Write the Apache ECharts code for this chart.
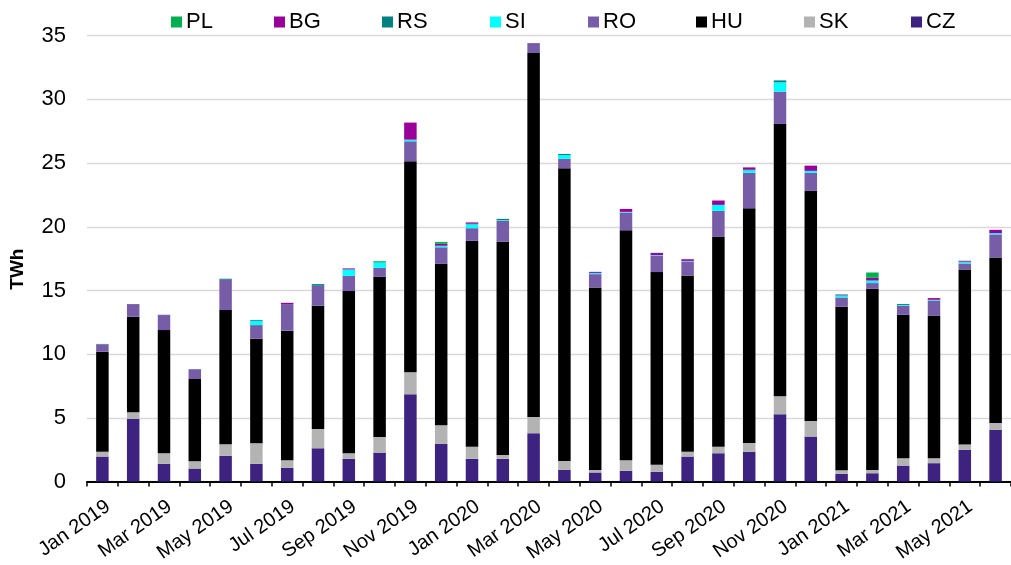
<!DOCTYPE html>
<html>
<head>
<meta charset="utf-8">
<script src="https://cdn.jsdelivr.net/npm/echarts@6/dist/echarts.min.js"></script>
<style>
html,body{margin:0;padding:0;background:#fff;}
#chart{width:1011px;height:565px;}
</style>
</head>
<body>
<div id="chart"></div>
<script>
var categories = ['Jan 2019','Feb 2019','Mar 2019','Apr 2019','May 2019','Jun 2019','Jul 2019','Aug 2019','Sep 2019','Oct 2019','Nov 2019','Dec 2019',
  'Jan 2020','Feb 2020','Mar 2020','Apr 2020','May 2020','Jun 2020','Jul 2020','Aug 2020','Sep 2020','Oct 2020','Nov 2020','Dec 2020',
  'Jan 2021','Feb 2021','Mar 2021','Apr 2021','May 2021','Jun 2021'];

var CZ = [1.96,4.91,1.39,1.02,2.01,1.39,1.07,2.61,1.78,2.27,6.85,2.95,1.78,1.78,3.79,0.91,0.71,0.84,0.76,1.96,2.22,2.33,5.28,3.53,0.60,0.65,1.25,1.44,2.48,4.05];
var SK = [0.37,0.53,0.83,0.57,0.92,1.61,0.60,1.52,0.44,1.23,1.72,1.47,0.94,0.31,1.28,0.71,0.20,0.83,0.55,0.37,0.50,0.70,1.41,1.23,0.29,0.26,0.58,0.39,0.42,0.55];
var HU = [7.86,7.50,9.67,6.46,10.53,8.21,10.17,9.67,12.73,12.57,16.57,12.67,16.18,16.73,28.57,22.97,14.33,18.06,15.13,13.82,16.52,18.43,21.38,18.06,12.83,14.22,11.26,11.21,13.75,12.99];
var RO = [0.58,0.99,1.18,0.76,2.38,1.07,2.09,1.57,1.20,0.71,1.57,1.30,0.99,1.65,0.78,0.74,1.04,1.39,1.28,1.13,2.01,2.77,2.54,1.41,0.73,0.45,0.71,1.15,0.47,1.81];
var SI = [0,0,0,0,0,0.34,0,0,0.50,0.42,0.13,0.12,0.30,0.05,0,0.30,0.10,0.05,0.05,0.04,0.47,0.20,0.73,0.16,0.15,0.20,0.05,0.05,0.10,0.10];
var RS = [0.03,0,0.02,0.02,0.08,0.06,0,0.13,0,0.04,0,0,0.05,0.10,0,0.08,0,0,0,0,0,0.05,0.15,0,0.06,0,0.08,0.03,0.06,0];
var BG = [0,0,0,0,0,0,0.10,0,0.08,0,1.34,0.15,0.10,0,0,0,0.08,0.23,0.18,0.13,0.34,0.18,0,0.41,0.03,0.21,0,0.13,0.05,0.26];
var PL = [0,0,0,0,0,0,0,0,0,0.06,0,0.15,0,0,0,0,0,0,0,0,0,0,0,0,0,0.42,0,0,0,0];

var yTicks = [0,5,10,15,20,25,30,35];

var seriesDefs = [
  {name:'CZ', data:CZ, color:'#3d2280'},
  {name:'SK', data:SK, color:'#b3b3b3'},
  {name:'HU', data:HU, color:'#000000'},
  {name:'RO', data:RO, color:'#775da8'},
  {name:'SI', data:SI, color:'#00ffff'},
  {name:'RS', data:RS, color:'#008080'},
  {name:'BG', data:BG, color:'#990099'},
  {name:'PL', data:PL, color:'#00b050'}
];

var legendOrder = ['PL','BG','RS','SI','RO','HU','SK','CZ'];
var legendLeft = [166,269,377,485,583,691,799,906];

var legends = legendOrder.map(function(n,i){
  return {
    data:[n], left:legendLeft[i], top:6, icon:'rect', itemWidth:11, itemHeight:11, itemGap:0,
    textStyle:{fontFamily:'Liberation Sans, Arial, sans-serif', fontSize:22, color:'#000', padding:[0,0,0,-1]},
    selectedMode:false
  };
});

var chart = echarts.init(document.getElementById('chart'), null, {renderer:'canvas'});
chart.setOption({
  animation:false,
  backgroundColor:'#fff',
  legend: legends,
  grid:{left:83, top:35.7, width:932, height:446, containLabel:false},
  xAxis:{
    type:'category', data:categories, boundaryGap:true,
    axisLine:{lineStyle:{color:'#000', width:2}},
    axisTick:{show:true, interval:0, length:5, lineStyle:{color:'#000', width:1.5}},
    axisLabel:{interval:1, rotate:35, margin:15, align:'right', verticalAlign:'top',
      fontFamily:'Liberation Sans, Arial, sans-serif', fontSize:20, color:'#000'}
  },
  yAxis:{
    type:'value', min:yTicks[0], max:yTicks[yTicks.length-1], interval:5,
    name:'TWh', nameLocation:'middle', nameRotate:90, nameGap:60,
    nameTextStyle:{fontFamily:'Liberation Sans, Arial, sans-serif', fontSize:19, fontWeight:'bold', color:'#000', padding:[0,21,0,0]},
    axisLine:{show:false}, axisTick:{show:false},
    axisLabel:{margin:21, fontFamily:'Liberation Sans, Arial, sans-serif', fontSize:22, color:'#000'},
    splitLine:{lineStyle:{color:'#d9d9d9', width:1.3}}
  },
  series: seriesDefs.map(function(s){
    return {name:s.name, type:'bar', stack:'total', data:s.data, barWidth:12.5,
      itemStyle:{color:s.color}, emphasis:{disabled:true}};
  })
});
</script>
</body>
</html>
